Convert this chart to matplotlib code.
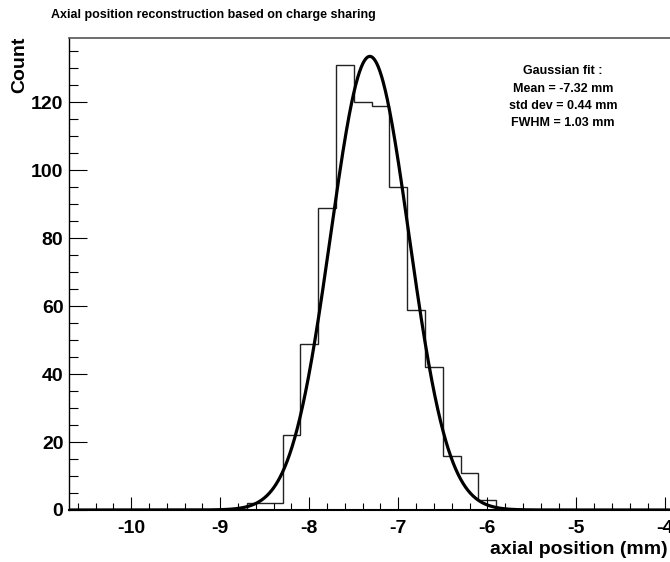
import numpy as np
import matplotlib
matplotlib.use("Agg")
import matplotlib.pyplot as plt
from matplotlib.ticker import MultipleLocator

plt.rcParams['font.family'] = ['Liberation Sans', 'DejaVu Sans']
plt.rcParams['font.weight'] = 'bold'

# ---- data ----
hist_range = [-10.7, -3.7]          # histogram axis range (mm)
bin_width = 0.2
filled_edges = [-8.7, -8.5, -8.3, -8.1, -7.9, -7.7, -7.5, -7.3, -7.1,
                -6.9, -6.7, -6.5, -6.3, -6.1, -5.9]
filled_counts = [2, 2, 22, 49, 89, 131, 120, 119, 95, 59, 42, 16, 11, 3]

fit_amplitude = 133.5
fit_mean = -7.32
fit_sigma = 0.44

x_ticks = [-10, -9, -8, -7, -6, -5, -4]
y_ticks = [0, 20, 40, 60, 80, 100, 120]
y_max = 139

title = "Axial position reconstruction based on charge sharing"
xlabel = "axial position (mm)"
ylabel = "Count"
fit_text = ["Gaussian fit :", "Mean = -7.32 mm", "std dev = 0.44 mm", "FWHM = 1.03 mm"]

# ---- full histogram (zeros outside filled region) ----
n_bins = int(round((hist_range[1] - hist_range[0]) / bin_width))
edges = np.round(hist_range[0] + bin_width * np.arange(n_bins + 1), 1)
counts = np.zeros(n_bins)
start = int(round((filled_edges[0] - hist_range[0]) / bin_width))
counts[start:start + len(filled_counts)] = filled_counts

W, H = 670, 562
fig = plt.figure(figsize=(W / 100, H / 100), dpi=100)
ax_left, ax_right, ax_top, ax_bottom = 69, 692, 37.7, 510
ax = fig.add_axes([ax_left / W, 1 - ax_bottom / H, (ax_right - ax_left) / W, (ax_bottom - ax_top) / H])

ax.stairs(counts, edges, color='#222222', linewidth=1.0)
xf = np.linspace(hist_range[0], hist_range[1], 1500)
yf = fit_amplitude * np.exp(-0.5 * ((xf - fit_mean) / fit_sigma) ** 2)
ax.plot(xf, yf, color='black', linewidth=2.3, solid_capstyle='round')

ax.set_xlim(hist_range)
ax.set_ylim(0, y_max)
ax.set_xticks(x_ticks)
ax.set_xticklabels([str(t) for t in x_ticks])
ax.set_yticks(y_ticks)
ax.xaxis.set_minor_locator(MultipleLocator(0.2))
ax.yaxis.set_minor_locator(MultipleLocator(5))

ax.tick_params(axis='x', which='major', direction='in', length=9.5, width=0.8, pad=7, labelsize=14)
ax.tick_params(axis='x', which='minor', direction='in', length=5, width=0.8)
ax.tick_params(axis='y', which='major', direction='in', length=13, width=0.8, pad=4, labelsize=14)
ax.tick_params(axis='y', which='minor', direction='in', length=6.5, width=0.8)
for lab in ax.get_xticklabels() + ax.get_yticklabels():
    lab.set_fontweight('bold')

ax.spines['right'].set_visible(False)
ax.spines['top'].set_color('#555555')
ax.spines['top'].set_linewidth(1.2)
ax.spines['left'].set_linewidth(1.0)
ax.spines['bottom'].set_linewidth(1.5)

fig.text(51 / W, 1 - 15 / H, title, fontsize=9, fontweight='bold', ha='left', va='center')
fig.text(668 / W, 1 - 550 / H, xlabel, fontsize=14, fontweight='bold', ha='right', va='center')
fig.text(20 / W, 1 - 37 / H, ylabel, fontsize=14, fontweight='bold', rotation=90, ha='center', va='top')

line_y = [71, 88.5, 106, 123.5]
for s, yy in zip(fit_text, line_y):
    fig.text(563 / W, 1 - yy / H, s, fontsize=9, fontweight='bold', ha='center', va='center')

fig.savefig("out.png", dpi=100)
